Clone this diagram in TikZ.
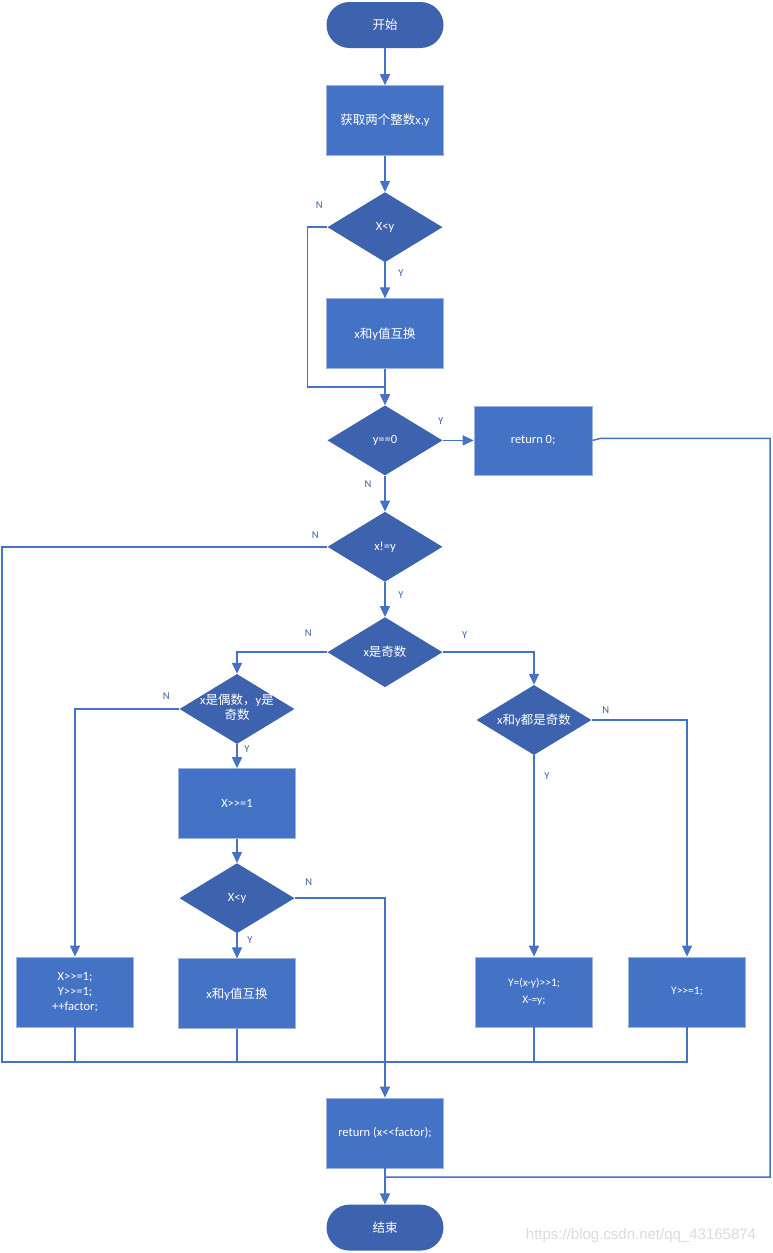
\documentclass[tikz,border=0pt]{standalone}
\usepackage{fontspec}
\setmainfont{Carlito}[Ligatures=TeXOff]
\newfontfamily\cjk{Noto Sans CJK SC}
\newfontfamily\urlfont{Liberation Sans}
\newcommand\zw[1]{{\cjk #1}}
\usetikzlibrary{positioning, shapes.geometric, arrows.meta}
\definecolor{boxblue}{HTML}{4472C4}
\definecolor{deepblue}{HTML}{3D62AE}
\definecolor{rimblue}{HTML}{9DB3E0}

\begin{document}
\begin{tikzpicture}[
  x=1pt, y=-1pt,
  font=\fontsize{12.5}{15}\selectfont,
  proc/.style={
    draw=rimblue, line width=0.8pt, fill=boxblue, text=white,
    minimum width=117pt, minimum height=70pt, align=center, inner sep=2pt
  },
  decision/.style={
    diamond, fill=deepblue, text=white, shape aspect=1.64,
    minimum width=115pt, minimum height=70pt, inner sep=0pt, align=center
  },
  terminal/.style={
    fill=deepblue, text=white, rounded corners=23pt,
    minimum width=117pt, minimum height=46pt
  },
  lbl/.style={font=\fontsize{10.5}{12}\selectfont, text=boxblue!85!black},
  flow/.style={draw=boxblue, line width=1.5pt, -{Triangle[width=10pt,length=11pt]}},
  wire/.style={draw=boxblue, line width=1.5pt}
]

\path[fill=white, use as bounding box] (0,0) rectangle (772,1253);

% ── Main column ──────────────────────────────────────────────────────────────
\node[terminal] (start) at (385,25) {\zw{开始}};
\node[proc, below=37pt of start] (get) {\zw{获取两个整数}x,y};
\node[decision, below=36pt of get] (cmpA) {X<y};
\node[proc, below=36pt of cmpA] (swapA) {x\zw{和}y\zw{值互换}};
\node[decision, below=36pt of swapA] (yzero) {y==0};
\node[proc, minimum width=118pt, minimum height=69pt, right=31pt of yzero] (ret0) {return 0;};
\node[decision, below=36pt of yzero] (neq) {x!=y};
\node[decision, below=35pt of neq] (odd) {x\zw{是奇数}};

% ── Left branch ──────────────────────────────────────────────────────────────
\node[decision] (evenodd) at (237,709)
  {\makebox[0pt]{\begin{tabular}{@{}c@{}}x\zw{是偶数，}y\zw{是}\\\zw{奇数}\end{tabular}}};
\node[proc, below=24pt of evenodd] (shiftx) {X>>=1};
\node[decision, below=24pt of shiftx] (cmpB) {X<y};
\node[proc, below=25pt of cmpB] (swapB) {x\zw{和}y\zw{值互换}};
\node[proc] (halve) at (75,992) {X>>=1;\\Y>>=1;\\++factor;};

% ── Right branch ─────────────────────────────────────────────────────────────
\node[decision] (bothodd) at (534,720) {x\zw{和}y\zw{都是奇数}};
\node[proc, font=\fontsize{11.5}{17}\selectfont] (subhalf) at (534,992) {Y=(x-y)>>1;\\X-=y;};
\node[proc, font=\fontsize{11.5}{14}\selectfont] (halvey) at (687,992) {Y>>=1;};

% ── Exit ─────────────────────────────────────────────────────────────────────
\node[proc] (retf) at (385,1133) {return (x<<factor);};
\node[terminal, below=36pt of retf] (stop) {\zw{结束}};

% ── Connectors ───────────────────────────────────────────────────────────────
\coordinate (mergeA) at ([yshift=-18pt]swapA.south);
\draw[flow] (start) -- (get);
\draw[flow] (get) -- (cmpA);
\draw[flow] (cmpA) -- (swapA);
\draw[wire] (cmpA.west) -- ++(-20,0) |- (mergeA);
\draw[flow] (swapA) -- (yzero);
\draw[flow] (yzero) -- (ret0);
\draw[flow] (yzero) -- (neq);
\draw[flow] (neq) -- (odd);
\draw[flow] (odd.west) -| (evenodd.north);
\draw[flow] (odd.east) -| (bothodd.north);
\draw[flow] (evenodd) -- (shiftx);
\draw[flow] (shiftx) -- (cmpB);
\draw[flow] (cmpB) -- (swapB);
\draw[flow] (evenodd.west) -| (halve.north);
\draw[flow] (bothodd) -- (subhalf);
\draw[flow] (bothodd.east) -| (halvey.north);
\draw[flow] (cmpB.east) -| (retf.north);

% loop back to x!=y
\coordinate (loopL) at (2,1062);
\draw[wire] (neq.west) -| (loopL) -- (loopL -| halvey.south) -- (halvey.south);
\foreach \n in {halve, swapB, subhalf}
  \draw[wire] (\n.south) -- (\n.south |- loopL);

% return 0 to the end
\coordinate (loopR) at (770,1177);
\draw[wire] (ret0.east) -- ++(8,-2) -| (loopR) -- (loopR -| stop.north);
\draw[flow] (retf) -- (stop);

% ── Branch labels ────────────────────────────────────────────────────────────
\node[lbl] (cmpAn)    at ([shift={(-8,-22)}]cmpA.west)    {N};
\node[lbl] (cmpAy)    at ([shift={(16,11)}]cmpA.south)    {Y};
\node[lbl] (yzeroy)   at ([shift={(-2,-19)}]yzero.east)   {Y};
\node[lbl] (yzeron)   at ([shift={(-17,9)}]yzero.south)   {N};
\node[lbl] (neqn)     at ([shift={(-12,-12)}]neq.west)    {N};
\node[lbl] (neqy)     at ([shift={(16,13)}]neq.south)     {Y};
\node[lbl] (oddn)     at ([shift={(-19,-19)}]odd.west)    {N};
\node[lbl] (oddy)     at ([shift={(22,-17)}]odd.east)     {Y};
\node[lbl] (evenoddn) at ([shift={(-13,-13)}]evenodd.west) {N};
\node[lbl] (evenoddy) at ([shift={(10,5)}]evenodd.south)  {Y};
\node[lbl] (bothoddn) at ([shift={(14,-10)}]bothodd.east) {N};
\node[lbl] (bothoddy) at ([shift={(13,21)}]bothodd.south) {Y};
\node[lbl] (cmpBn)    at ([shift={(14,-16)}]cmpB.east)    {N};
\node[lbl] (cmpBy)    at ([shift={(13,7)}]cmpB.south)     {Y};

% ── Watermark ────────────────────────────────────────────────────────────────
\node[font=\urlfont\fontsize{15}{16}\selectfont, text=gray!28] (mark)
  at (641,1236) {https://blog.csdn.net/qq\_43165874};

\end{tikzpicture}
\end{document}
